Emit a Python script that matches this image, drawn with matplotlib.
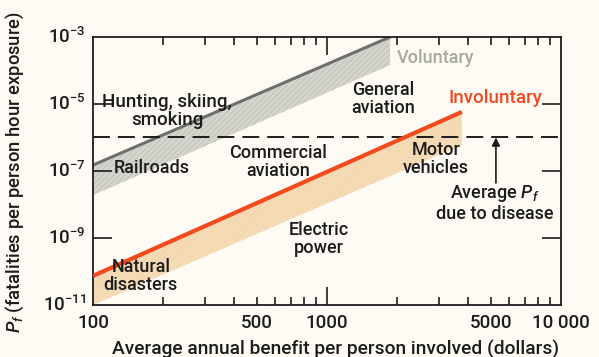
import numpy as np
import matplotlib
matplotlib.use("Agg")
import matplotlib.pyplot as plt
from matplotlib.ticker import FixedLocator, NullFormatter

# ---- data ----
vol_benefit = [100, 1860]            # dollars
vol_upper = [1.5e-7, 1e-3]           # Pf upper edge
vol_lower = [1.9e-8, 1.45e-4]        # Pf lower edge
inv_benefit = [100, 3770]
inv_upper = [7.4e-11, 5.8e-6]
inv_lower = [1.0e-11, 6.0e-7]
disease_pf = 1e-6

x_tick_vals = [100, 500, 1000, 5000, 10000]
x_tick_labels = ["100", "500", "1000", "5000", "10 000"]
y_tick_vals = [1e-3, 1e-5, 1e-7, 1e-9, 1e-11]
y_tick_labels = ["10$^{-3}$", "10$^{-5}$", "10$^{-7}$", "10$^{-9}$", "10$^{-11}$"]

FONT = ['Roboto', 'Liberation Sans', 'DejaVu Sans']
plt.rcParams['font.family'] = FONT
plt.rcParams['font.weight'] = 'medium'
plt.rcParams['mathtext.fontset'] = 'custom'
plt.rcParams['mathtext.it'] = 'Roboto:italic'
plt.rcParams['mathtext.rm'] = 'Roboto'
plt.rcParams['hatch.linewidth'] = 0.4

bg = '#fdfbf4'
tc = '#1c1c1c'
fig = plt.figure(figsize=(5.99, 3.57), dpi=100, facecolor=bg)
ax = fig.add_axes([0.1553, 0.1457, 0.7813, 0.7507])
ax.set_facecolor(bg)
ax.set_xscale('log')
ax.set_yscale('log')
ax.set_xlim(100, 10000)
ax.set_ylim(1e-11, 1e-3)

# voluntary band
ax.fill_between(vol_benefit, vol_lower, vol_upper, facecolor='#d6d5cd',
                edgecolor='#b4b4ac', hatch='//////', linewidth=0, zorder=1)
ax.plot(vol_benefit, vol_upper, color='#6e6e6e', lw=2.2, solid_capstyle='butt', zorder=2)

# involuntary band
ax.fill_between(inv_benefit, inv_lower, inv_upper, facecolor='#f6dcb6',
                edgecolor='#efd0a6', hatch='//////', linewidth=0, zorder=1)
ax.plot(inv_benefit, inv_upper, color='#f04a1e', lw=3, solid_capstyle='butt', zorder=3)

# disease line
ax.axhline(disease_pf, color=tc, lw=1.4, dashes=(8.7, 4.1), zorder=2)
ax.annotate('', xy=(5270, disease_pf), xytext=(5270, 4.4e-8),
            arrowprops=dict(arrowstyle='-|>', color=tc, lw=1.2,
                            mutation_scale=12, shrinkA=0, shrinkB=0))

for s in ax.spines.values():
    s.set_color(tc)
    s.set_linewidth(1.3)

ax.xaxis.set_major_locator(FixedLocator([1000]))
ax.xaxis.set_minor_locator(FixedLocator([200, 300, 400, 500, 600, 700, 800, 900,
                                         2000, 3000, 4000, 5000, 6000, 7000, 8000, 9000]))
ax.xaxis.set_major_formatter(NullFormatter())
ax.xaxis.set_minor_formatter(NullFormatter())
ax.tick_params(axis='x', which='major', direction='in', length=13, width=1.2,
               top=True, bottom=True, color=tc)
ax.tick_params(axis='x', which='minor', direction='in', length=6, width=1.2,
               top=True, bottom=True, color=tc)
ax.yaxis.set_major_locator(FixedLocator([1e-5, 1e-7, 1e-9]))
ax.yaxis.set_minor_locator(FixedLocator([]))
ax.yaxis.set_major_formatter(NullFormatter())
ax.tick_params(axis='y', which='major', direction='in', length=14, width=1.2,
               left=True, right=True, color=tc)

for v, l in zip(x_tick_vals, x_tick_labels):
    ax.text(v, -0.035, l, transform=ax.get_xaxis_transform(), ha='center', va='top',
            fontsize=13.5, color=tc)
for v, l in zip(y_tick_vals, y_tick_labels):
    ax.text(-0.015, v, l, transform=ax.get_yaxis_transform(), ha='right', va='center',
            fontsize=13.5, color=tc)

fig.text(336 / 599, 1 - 349 / 357, 'Average annual benefit per person involved (dollars)',
         ha='center', va='center', fontsize=13.8, color=tc)
fig.text(15 / 599, 1 - 172 / 357, '$P_f$ (fatalities per person hour exposure)', rotation=90,
         ha='center', va='center', fontsize=13.2, color=tc)

kw = dict(fontsize=13, color=tc, ha='center', va='center', linespacing=1.05, zorder=5)
ax.text(207, 6.2e-6, 'Hunting, skiing,\nsmoking', fontsize=13.5, color=tc, ha='center',
        va='center', linespacing=1.05, zorder=5)
ax.text(179, 1.2e-7, 'Railroads', **kw)
ax.text(617, 1.86e-7, 'Commercial\naviation', **kw)
ax.text(1734, 1.41e-5, 'General\naviation', **kw)
ax.text(2924, 2.29e-7, 'Motor\nvehicles', **kw)
ax.text(925, 9.3e-10, 'Electric\npower', **kw)
ax.text(160, 7.4e-11, 'Natural\ndisasters', **kw)
ax.text(5225, 1.1e-8, 'Average $P_f$\ndue to disease', **kw)
ax.text(1991, 2.36e-4, 'Voluntary', fontsize=13, color='#a8a8a2', ha='left', va='center')
ax.text(3289, 1.51e-5, 'Involuntary', fontsize=13.5, color='#f04a1e', ha='left', va='center')

fig.savefig('out.png', dpi=100, facecolor=bg)
